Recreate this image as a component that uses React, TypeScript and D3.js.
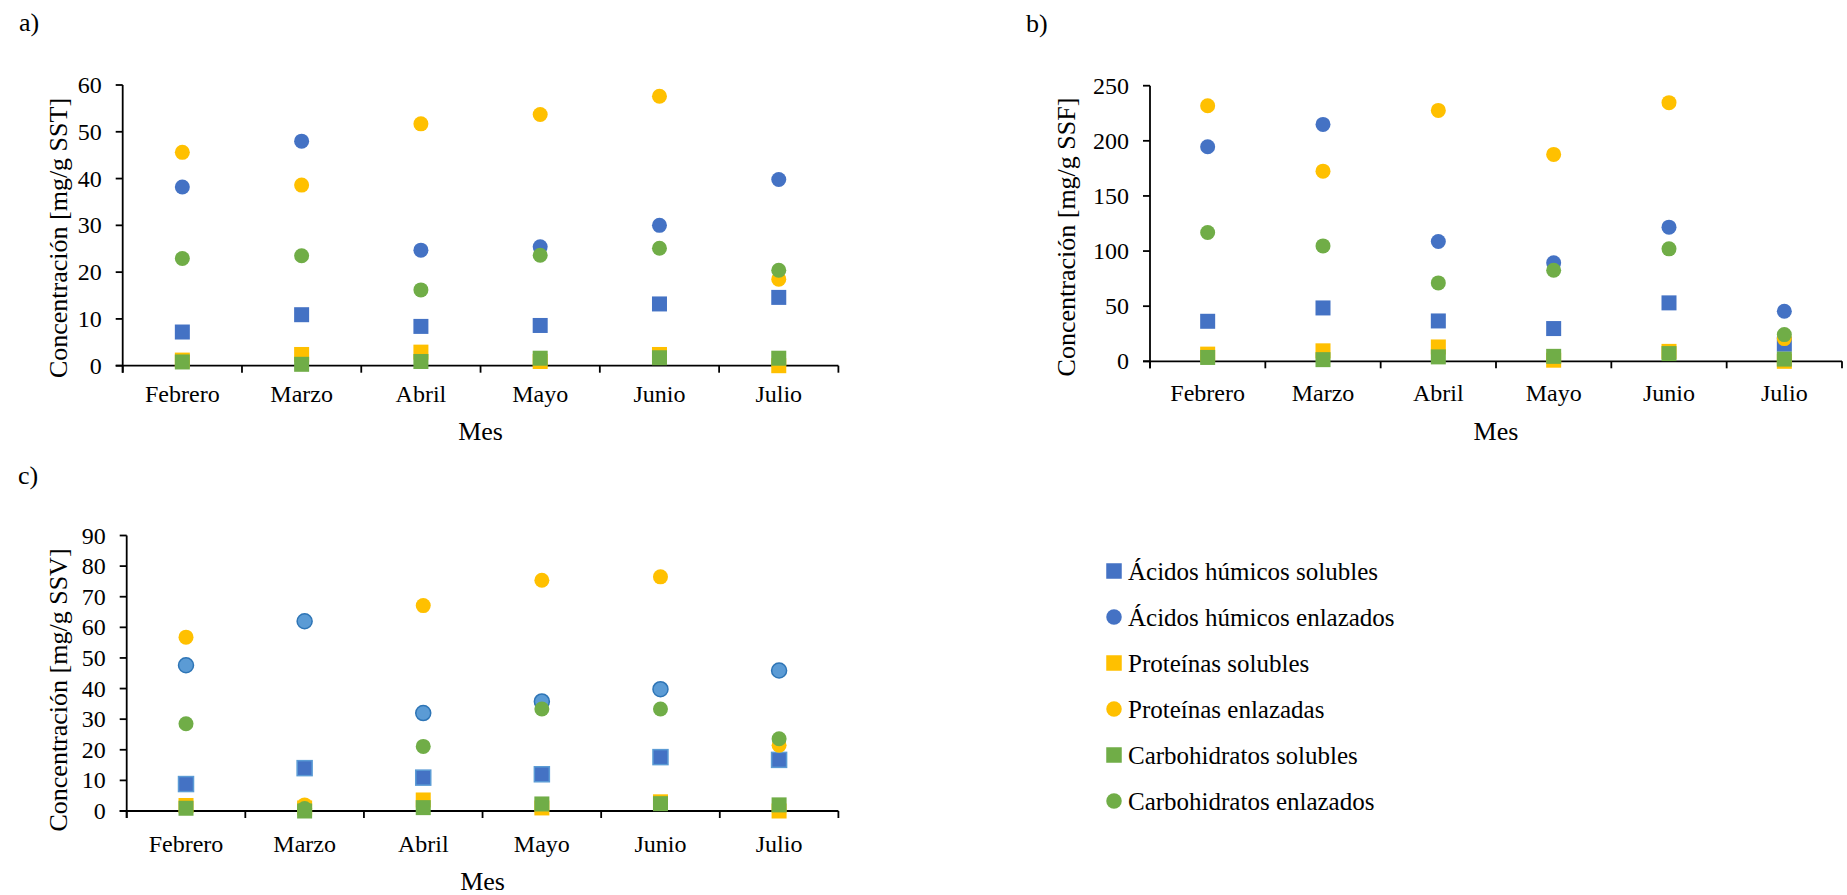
import React from "react";
import * as d3 from "d3";

// Months on the x axis
const meses = ["Febrero", "Marzo", "Abril", "Mayo", "Junio", "Julio"];

// Series names (legend order = drawing order)
const serieNombres = [
  "Ácidos húmicos solubles",
  "Ácidos húmicos enlazados",
  "Proteínas solubles",
  "Proteínas enlazadas",
  "Carbohidratos solubles",
  "Carbohidratos enlazados",
];

// a) mg/g SST
const sstHumicosSol = [7.2, 10.9, 8.4, 8.6, 13.2, 14.6];
const sstHumicosEnl = [38.2, 48.0, 24.7, 25.4, 30.0, 39.8];
const sstProteinasSol = [1.2, 2.4, 2.9, 0.9, 2.4, 0.0];
const sstProteinasEnl = [45.6, 38.6, 51.7, 53.7, 57.6, 18.5];
const sstCarbohidratosSol = [0.8, 0.3, 0.9, 1.6, 1.7, 1.6];
const sstCarbohidratosEnl = [22.9, 23.5, 16.2, 23.6, 25.1, 20.4];

// b) mg/g SSF
const ssfHumicosSol = [36.3, 48.4, 36.6, 29.7, 53.0, 15.5];
const ssfHumicosEnl = [194.6, 214.9, 108.7, 89.3, 121.7, 45.4];
const ssfProteinasSol = [6.5, 9.5, 13.0, 1.0, 9.0, 0.0];
const ssfProteinasEnl = [231.8, 172.5, 227.6, 187.7, 234.6, 20.6];
const ssfCarbohidratosSol = [3.5, 1.5, 4.0, 4.5, 7.0, 2.0];
const ssfCarbohidratosEnl = [116.8, 104.7, 71.1, 82.6, 102.0, 24.2];

// c) mg/g SSV
const ssvHumicosSol = [8.8, 14.0, 10.9, 12.0, 17.6, 16.7];
const ssvHumicosEnl = [47.6, 62.0, 32.0, 35.8, 39.8, 45.9];
const ssvProteinasSol = [1.8, 1.0, 3.6, 1.0, 3.0, 0.0];
const ssvProteinasEnl = [56.8, 2.0, 67.1, 75.4, 76.5, 21.5];
const ssvCarbohidratosSol = [0.9, 0.0, 1.1, 2.3, 2.4, 2.0];
const ssvCarbohidratosEnl = [28.5, 0.8, 21.1, 33.3, 33.3, 23.6];

// y-axis tick values
const ticksSST = [0, 10, 20, 30, 40, 50, 60];
const ticksSSF = [0, 50, 100, 150, 200, 250];
const ticksSSV = [0, 10, 20, 30, 40, 50, 60, 70, 80, 90];

const AZUL = "#4472C4";
const AMARILLO = "#FFC000";
const VERDE = "#70AD47";
const seriesColor = [AZUL, AZUL, AMARILLO, AMARILLO, VERDE, VERDE];
const seriesShape = ["square", "circle", "square", "circle", "square", "circle"];

const FONT = "'Liberation Serif', 'Times New Roman', serif";

type PanelCfg = {
  label: string;
  labelX: number;
  labelY: number;
  yTitle: string;
  series: number[][];
  ticks: number[];
  x0: number;
  x1: number;
  yTop: number;
  yBottom: number;
  tickLabelDy: number;
  mesDy: number;
  titleX: number;
  titleY: number;
  lightCircles?: boolean;
};

const panels: PanelCfg[] = [
  {
    label: "a)", labelX: 19, labelY: 31,
    yTitle: "Concentración [mg/g SST]",
    series: [sstHumicosSol, sstHumicosEnl, sstProteinasSol, sstProteinasEnl, sstCarbohidratosSol, sstCarbohidratosEnl],
    ticks: ticksSST,
    x0: 122.7, x1: 838.4, yTop: 85, yBottom: 365.7,
    tickLabelDy: 36, mesDy: 74, titleX: 58, titleY: 238,
  },
  {
    label: "b)", labelX: 1026, labelY: 32,
    yTitle: "Concentración [mg/g SSF]",
    series: [ssfHumicosSol, ssfHumicosEnl, ssfProteinasSol, ssfProteinasEnl, ssfCarbohidratosSol, ssfCarbohidratosEnl],
    ticks: ticksSSF,
    x0: 1150, x1: 1842, yTop: 85.7, yBottom: 361.3,
    tickLabelDy: 40, mesDy: 79, titleX: 1066, titleY: 237,
  },
  {
    label: "c)", labelX: 18, labelY: 484,
    yTitle: "Concentración [mg/g SSV]",
    series: [ssvHumicosSol, ssvHumicosEnl, ssvProteinasSol, ssvProteinasEnl, ssvCarbohidratosSol, ssvCarbohidratosEnl],
    ticks: ticksSSV,
    x0: 126.7, x1: 838.4, yTop: 535.5, yBottom: 811,
    tickLabelDy: 41, mesDy: 79, titleX: 58, titleY: 690,
    lightCircles: true,
  },
];

function Marker({ shape, cx, cy, fill, stroke, size }: { shape: string; cx: number; cy: number; fill: string; stroke?: string; size: number }) {
  if (shape === "circle") {
    return <circle cx={cx} cy={cy} r={size / 2} fill={fill} stroke={stroke ?? "none"} strokeWidth={stroke ? 1.5 : 0} />;
  }
  return (
    <rect x={cx - size / 2} y={cy - size / 2} width={size} height={size} fill={fill} stroke={stroke ?? "none"} strokeWidth={stroke ? 1.5 : 0} />
  );
}

function Panel({ cfg }: { cfg: PanelCfg }) {
  const x = d3.scaleBand<string>().domain(meses).range([cfg.x0, cfg.x1]).paddingInner(0).paddingOuter(0);
  const yMax = cfg.ticks[cfg.ticks.length - 1];
  const y = d3.scaleLinear().domain([0, yMax]).range([cfg.yBottom, cfg.yTop]);
  const bw = x.bandwidth();
  const boundaries = [...meses.map((m) => x(m) as number), cfg.x1];

  return (
    <g fontFamily={FONT} fill="#000">
      <text x={cfg.labelX} y={cfg.labelY} fontSize={26}>{cfg.label}</text>

      {/* y axis */}
      <line x1={cfg.x0} x2={cfg.x0} y1={y(yMax)} y2={y(0) + 7} stroke="#000" strokeWidth={1.8} />
      {cfg.ticks.map((t) => (
        <g key={t}>
          <line x1={cfg.x0 - 7} x2={cfg.x0} y1={y(t)} y2={y(t)} stroke="#000" strokeWidth={1.8} />
          <text x={cfg.x0 - 21} y={y(t) + 8} fontSize={24} textAnchor="end">{t}</text>
        </g>
      ))}

      {/* x axis */}
      <line x1={cfg.x0 - 7} x2={cfg.x1} y1={y(0)} y2={y(0)} stroke="#000" strokeWidth={1.8} />
      {boundaries.map((bx, i) => (
        <line key={i} x1={bx} x2={bx} y1={y(0)} y2={y(0) + 7} stroke="#000" strokeWidth={1.8} />
      ))}
      {meses.map((m) => (
        <text key={m} x={(x(m) as number) + bw / 2} y={y(0) + cfg.tickLabelDy} fontSize={24} textAnchor="middle">{m}</text>
      ))}

      <text x={(cfg.x0 + cfg.x1) / 2} y={y(0) + cfg.mesDy} fontSize={26} textAnchor="middle">Mes</text>
      <text
        transform={`translate(${cfg.titleX},${cfg.titleY}) rotate(-90)`}
        fontSize={26}
        textAnchor="middle"
        dominantBaseline="central"
      >
        {cfg.yTitle}
      </text>

      {/* markers */}
      {cfg.series.map((vals, si) => (
        <g key={si}>
          {vals.map((v, i) => {
            const shape = seriesShape[si];
            let fill = seriesColor[si];
            let stroke: string | undefined;
            if (cfg.lightCircles && si === 1) {
              fill = "#5B9BD5";
              stroke = "#2E75B6";
            } else if (cfg.lightCircles && si === 0) {
              stroke = "#5B9BD5";
            }
            return (
              <Marker
                key={i}
                shape={shape}
                cx={(x(meses[i]) as number) + bw / 2}
                cy={y(v)}
                fill={fill}
                stroke={stroke}
                size={15}
              />
            );
          })}
        </g>
      ))}
    </g>
  );
}

function Leyenda() {
  const y = d3.scalePoint<string>().domain(serieNombres).range([571, 801]);
  return (
    <g fontFamily={FONT}>
      {serieNombres.map((n, i) => {
        const cy = y(n) as number;
        return (
          <g key={n}>
            <Marker shape={seriesShape[i]} cx={1114} cy={cy} fill={seriesColor[i]} size={15.5} />
            <text x={1128} y={cy + 9} fontSize={25} fill="#000">{n}</text>
          </g>
        );
      })}
    </g>
  );
}

export default function App() {
  return (
    <svg
      width={1847}
      height={895}
      style={{ position: "absolute", left: 0, top: 0, background: "#fff" }}
    >
      <rect width={1847} height={895} fill="#fff" />
      {panels.map((p) => (
        <Panel key={p.label} cfg={p} />
      ))}
      <Leyenda />
    </svg>
  );
}
